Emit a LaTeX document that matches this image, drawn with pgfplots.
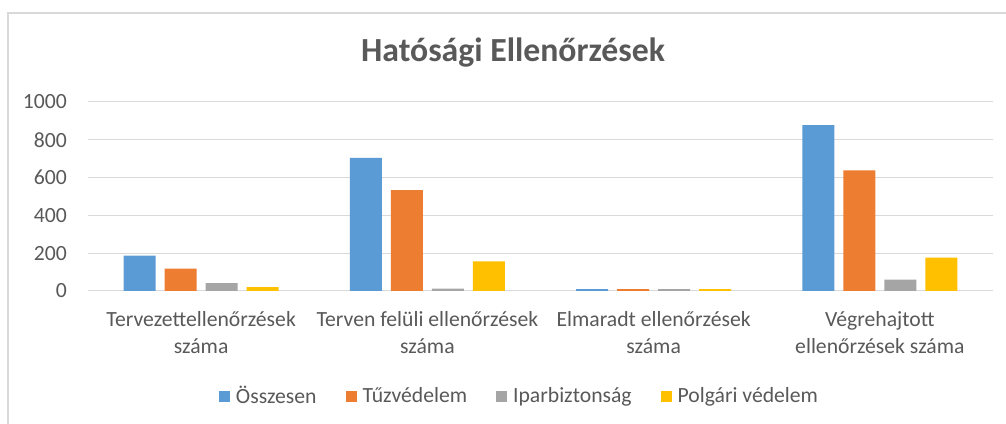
\documentclass[border=0pt]{standalone}
\usepackage{pgfplots}
\pgfplotsset{compat=1.18}
\usepackage{fontspec}
\setmainfont{Carlito}
\definecolor{txt}{RGB}{89,89,89}
\definecolor{gridc}{RGB}{217,217,217}
\definecolor{cblue}{RGB}{91,155,213}
\definecolor{corange}{RGB}{237,125,49}
\definecolor{cgray}{RGB}{165,165,165}
\definecolor{cyellow}{RGB}{255,192,0}
\begin{document}
\begin{tikzpicture}
\useasboundingbox (0pt,0pt) rectangle (754.5pt,318pt);
\fill[white] (0pt,0pt) rectangle (754.5pt,318pt);
\draw[color=gridc,line width=1.5pt] (6pt,0pt) -- (6pt,308.25pt) -- (754.5pt,308.25pt);
\node[anchor=base,text=txt,font={\fontsize{25.3}{30}\selectfont\bfseries}] at (384.75pt,271.5pt) {Hatósági Ellenőrzések};
\begin{axis}[
  at={(66pt,99.75pt)}, anchor=south west,
  scale only axis, width=678.75pt, height=141.75pt,
  ymin=0, ymax=1000, xmin=-0.5, xmax=3.5,
  ytick={0,200,...,1000},
  xtick={0,1,2,3},
  xticklabels={{Tervezettellenőrzések\\száma},{Terven felüli ellenőrzések\\száma},{Elmaradt ellenőrzések\\száma},{Végrehajtott\\ellenőrzések száma}},
  major tick length=0pt,
  axis line style={draw=none},
  ymajorgrids, grid style={color=gridc,line width=0.75pt},
  ybar=6.75pt, bar width=24pt,
  tick label style={text=txt,font={\fontsize{16.25}{20.25}\selectfont}},
  /pgf/number format/assume math mode=true,
  /pgf/number format/1000 sep={},
  yticklabel style={anchor=east,inner sep=0pt,xshift=-15.75pt},
  xticklabel style={align=center,anchor=north,inner sep=0pt,yshift=-15pt},
  legend columns=-1,
  legend style={at={(axis description cs:0.4757,-0.5556)},anchor=center,draw=none,fill=none,
    font={\fontsize{16.25}{19}\selectfont},text=txt,
    nodes={inner sep=0pt},
    /tikz/every odd column/.style={column sep=4.5pt},
    /tikz/every even column/.style={column sep=21.75pt}},
  legend image code/.code={\fill[#1] (0pt,-4.125pt) rectangle (8.25pt,4.125pt);},
]
\addplot[fill=cblue,draw=none] coordinates {(0,187) (1,705) (2,10) (3,878)};
\addplot[fill=corange,draw=none] coordinates {(0,118) (1,534) (2,10) (3,638)};
\addplot[fill=cgray,draw=none] coordinates {(0,42) (1,12) (2,10) (3,60)};
\addplot[fill=cyellow,draw=none] coordinates {(0,21) (1,157) (2,10) (3,176)};
\legend{Összesen,Tűzvédelem,Iparbiztonság,Polgári védelem}
\end{axis}
\end{tikzpicture}
\end{document}
